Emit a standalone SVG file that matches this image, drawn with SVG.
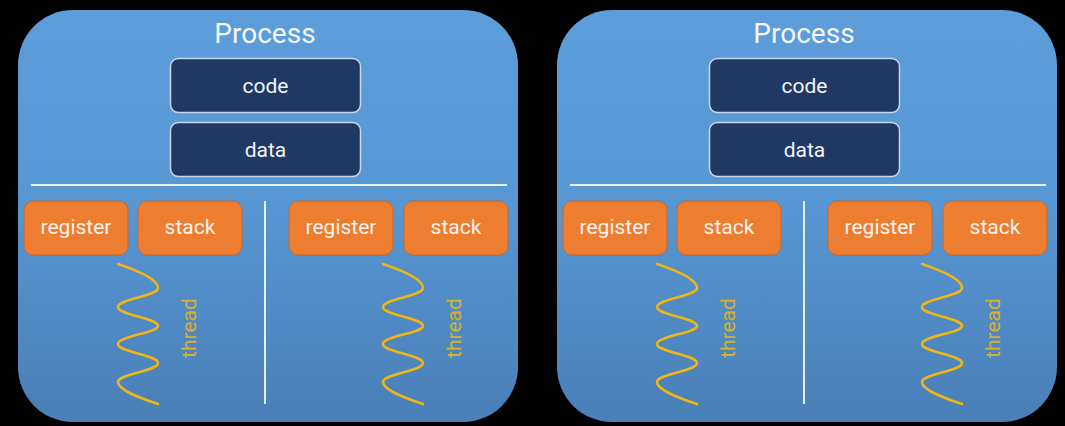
<svg xmlns="http://www.w3.org/2000/svg" xmlns:xlink="http://www.w3.org/1999/xlink" width="1065" height="426" viewBox="0 0 1065 426">
<style>
text { font-family: Roboto, "Liberation Sans", sans-serif; text-anchor: middle; }
.proc { fill: url(#pgrad); }
.title { font-size: 28px; fill: #f5f7fb; }
.mem { fill: #1f3864; stroke: #c8d7ec; stroke-width: 1.5; }
.memt { font-size: 21px; fill: #f2f5fa; }
.reg { fill: #ed7d31; stroke: #c8692b; stroke-width: 1; }
.regt { font-size: 21px; fill: #fbf3ec; }
.sep { stroke: #e6eef8; stroke-width: 2; fill: none; }
.wave { fill: none; stroke: #efb514; stroke-width: 2.6; stroke-linecap: round; }
.tht { font-size: 21px; fill: #d7b028; }
</style>
<defs>
<linearGradient id="pgrad" x1="0" y1="0" x2="0" y2="1">
<stop offset="0" stop-color="#5c9dda"/>
<stop offset="0.45" stop-color="#5797d4"/>
<stop offset="1" stop-color="#4a7fb7"/>
</linearGradient>
<path id="wave" d="M118,264 C136,270 158,279 158,288 C158,296 118,299 118,307 C118,315 158,318 158,326 C158,333 118,336 118,344 C118,352 158,355 158,363 C158,371 118,374 118,382 C118,390 140,398 158,404"/>
</defs>
<rect width="1065" height="426" fill="#000"/>

<g id="process1">
<rect class="proc" x="18" y="10" width="500" height="412" rx="55" ry="55"/>
<text class="title" x="265" y="43">Process</text>
</g>
<g id="process2">
<rect class="proc" x="557" y="10" width="500" height="412" rx="55" ry="55"/>
<text class="title" x="804" y="43">Process</text>
</g>

<g id="separators">
<line class="sep" x1="31" y1="185" x2="507" y2="185"/>
<line class="sep" x1="265" y1="201" x2="265" y2="404"/>
<line class="sep" x1="570" y1="185" x2="1046" y2="185"/>
<line class="sep" x1="804" y1="201" x2="804" y2="404"/>
</g>

<g id="code1"><rect class="mem" x="170.5" y="58.5" width="190" height="54" rx="8"/><text class="memt" x="265.5" y="93">code</text></g>
<g id="data1"><rect class="mem" x="170.5" y="122.5" width="190" height="54" rx="8"/><text class="memt" x="265.5" y="157">data</text></g>
<g id="code2"><rect class="mem" x="709.5" y="58.5" width="190" height="54" rx="8"/><text class="memt" x="804.5" y="93">code</text></g>
<g id="data2"><rect class="mem" x="709.5" y="122.5" width="190" height="54" rx="8"/><text class="memt" x="804.5" y="157">data</text></g>

<g id="p1t1-register"><rect class="reg" x="24" y="201" width="104" height="54" rx="9"/><text class="regt" x="76" y="234">register</text></g>
<g id="p1t1-stack"><rect class="reg" x="138" y="201" width="104" height="54" rx="9"/><text class="regt" x="190" y="234">stack</text></g>
<g id="p1t2-register"><rect class="reg" x="289" y="201" width="104" height="54" rx="9"/><text class="regt" x="341" y="234">register</text></g>
<g id="p1t2-stack"><rect class="reg" x="404" y="201" width="104" height="54" rx="9"/><text class="regt" x="456" y="234">stack</text></g>
<g id="p2t1-register"><rect class="reg" x="563" y="201" width="104" height="54" rx="9"/><text class="regt" x="615" y="234">register</text></g>
<g id="p2t1-stack"><rect class="reg" x="677" y="201" width="104" height="54" rx="9"/><text class="regt" x="729" y="234">stack</text></g>
<g id="p2t2-register"><rect class="reg" x="828" y="201" width="104" height="54" rx="9"/><text class="regt" x="880" y="234">register</text></g>
<g id="p2t2-stack"><rect class="reg" x="943" y="201" width="104" height="54" rx="9"/><text class="regt" x="995" y="234">stack</text></g>

<g id="p1-thread1"><use xlink:href="#wave" href="#wave" class="wave"/><text class="tht" transform="translate(196,328) rotate(-90)">thread</text></g>
<g id="p1-thread2"><use xlink:href="#wave" href="#wave" class="wave" transform="translate(265,0)"/><text class="tht" transform="translate(461,328) rotate(-90)">thread</text></g>
<g id="p2-thread1"><use xlink:href="#wave" href="#wave" class="wave" transform="translate(539,0)"/><text class="tht" transform="translate(735,328) rotate(-90)">thread</text></g>
<g id="p2-thread2"><use xlink:href="#wave" href="#wave" class="wave" transform="translate(804,0)"/><text class="tht" transform="translate(1000,328) rotate(-90)">thread</text></g>
</svg>
